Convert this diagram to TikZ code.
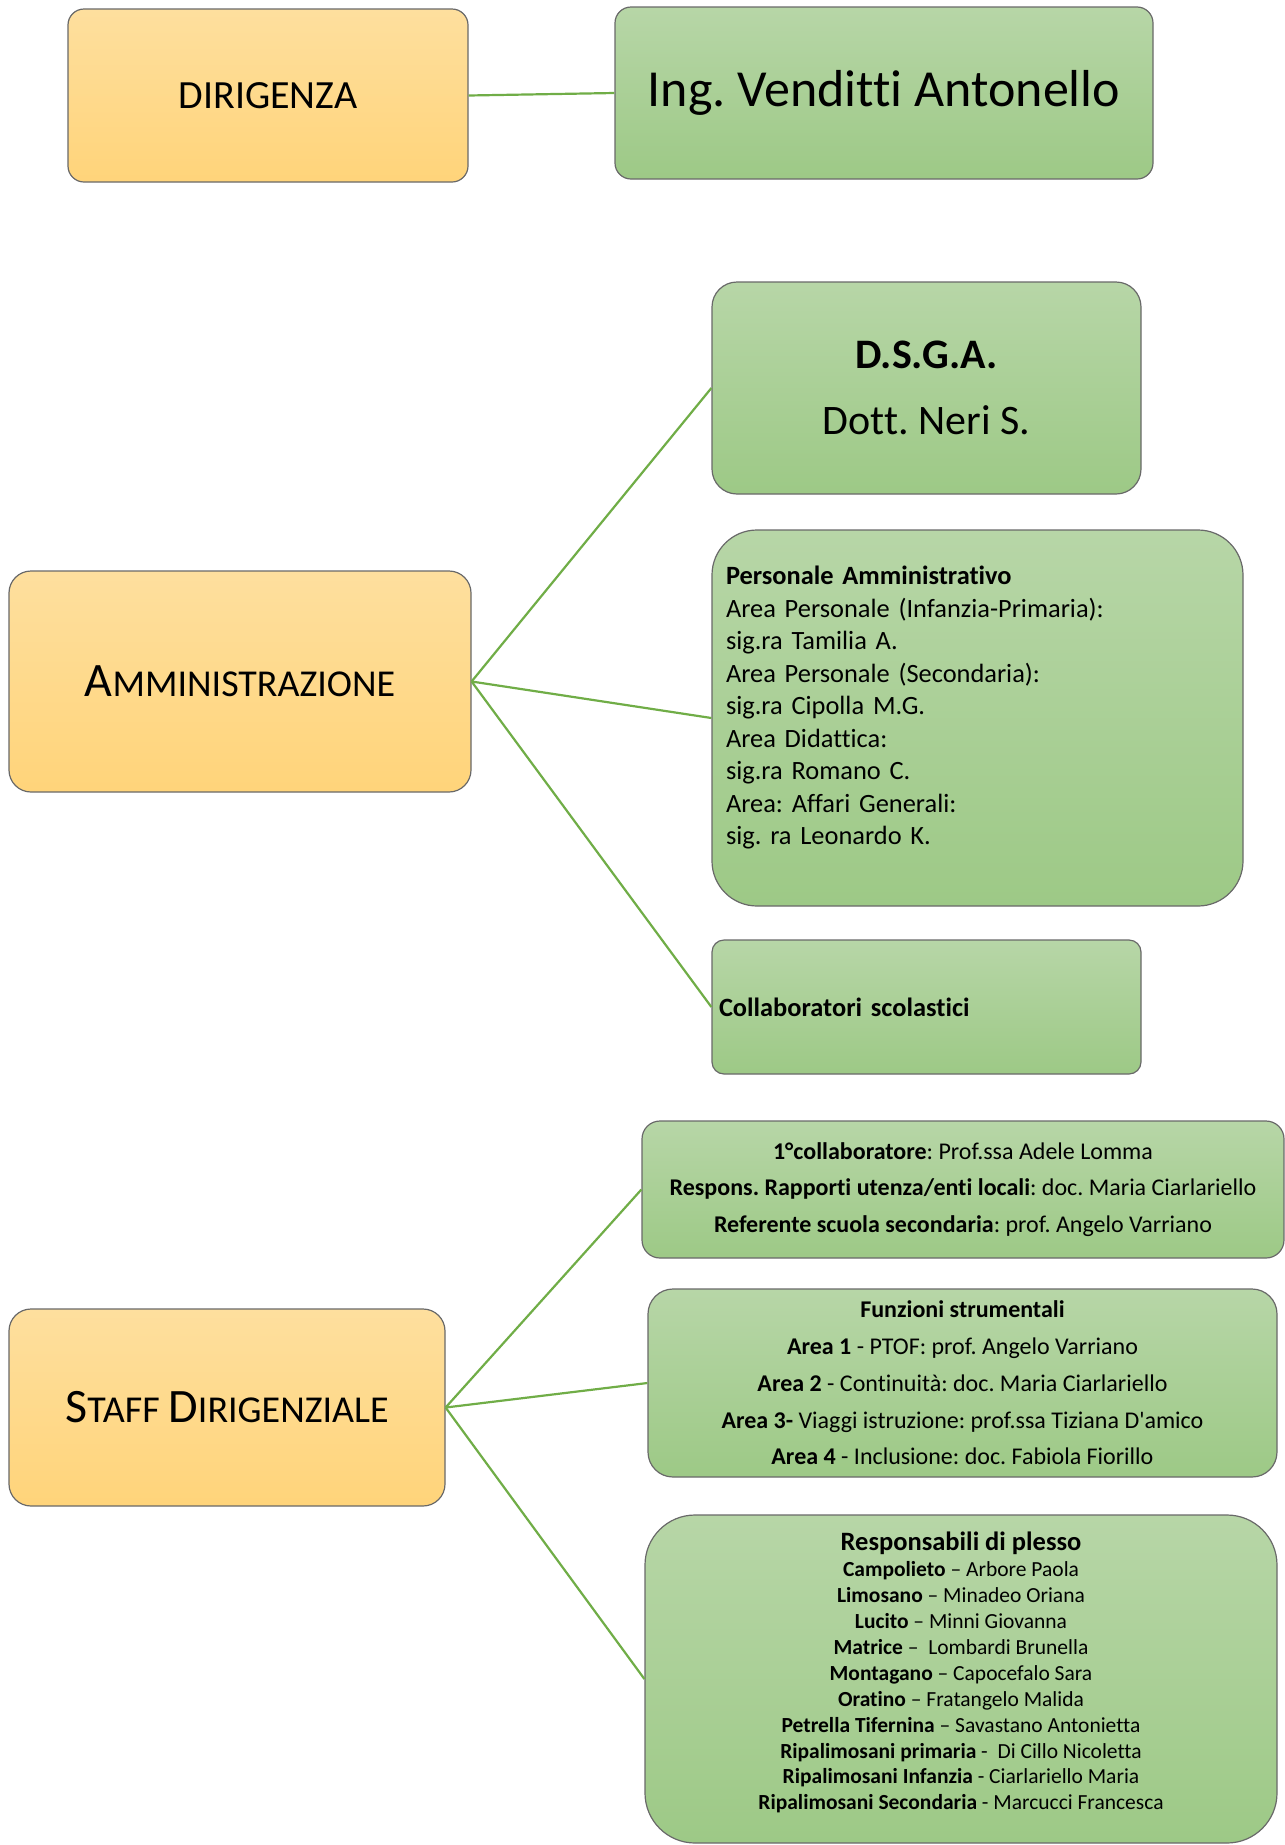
\documentclass[tikz,border=0pt]{standalone}
\usepackage{fontspec}
\setmainfont{Carlito}[Ligatures={TeX,NoCommon}]
\usetikzlibrary{positioning}
\definecolor{orangetop}{RGB}{254,223,158}
\definecolor{orangebot}{RGB}{255,212,122}
\definecolor{greentop}{RGB}{183,214,167}
\definecolor{greenbot}{RGB}{157,201,134}
\definecolor{boxline}{RGB}{105,105,105}
\definecolor{linkgreen}{RGB}{112,173,71}
\newcommand{\fsz}[2]{\fontsize{#1}{#2}\selectfont}
\frenchspacing

\begin{document}
\begin{tikzpicture}[x=1pt, y=-1pt,
  orgbox/.style={draw=boxline, line width=1.2pt, top color=orangetop, bottom color=orangebot, rounded corners=22pt, inner sep=0pt, align=center},
  namebox/.style={draw=boxline, line width=1.2pt, top color=greentop, bottom color=greenbot, rounded corners=18pt, inner sep=0pt},
  link/.style={draw=linkgreen, line width=2.2pt}]
  \useasboundingbox (0,0) rectangle (1285,1845);

  % Dirigenza
  \node[orgbox, minimum width=400pt, minimum height=173pt, rounded corners=16pt, font=\fsz{40}{48}] (dirigenza) at (268,95.5) {DIRIGENZA};
  \node[namebox, minimum width=538pt, minimum height=172pt, rounded corners=16pt, font=\fsz{52}{62}] (venditti) at (884,93) {Ing. Venditti Antonello};

  % Amministrazione
  \node[orgbox, minimum width=462pt, minimum height=221pt, font=\fsz{48}{58}] (amm) at (240,681.5) {A\fsz{38}{58}MMINISTRAZIONE};

  \node[namebox, minimum width=429pt, minimum height=212pt, rounded corners=25pt, align=center, font=\fsz{42}{66}] (dsga) at (926.5,388) {
    \textbf{D.S.G.A.}\\
    Dott. Neri S.
  };

  \node[namebox, minimum width=531pt, minimum height=376pt, rounded corners=45pt, inner xsep=14pt, text width=503pt, align=left, font=\fsz{26.4}{32.5}] (personale) at (977.5,718) {
    \textbf{Personale Amministrativo}\\
    Area Personale (Infanzia-Primaria):\\
    sig.ra Tamilia A.\\
    Area Personale (Secondaria):\\
    sig.ra Cipolla M.G.\\
    Area Didattica:\\
    sig.ra Romano C.\\
    Area: Affari Generali:\\
    sig. ra Leonardo K.\\[-7pt]
    \mbox{}
  };

  \node[namebox, minimum width=429pt, minimum height=134pt, rounded corners=12pt, inner xsep=7pt, text width=415pt, align=left, font=\fsz{26.4}{32.5}\bfseries] (collab) at (926.5,1007) {Collaboratori scolastici};

  % Staff dirigenziale
  \node[orgbox, minimum width=436pt, minimum height=197pt, font=\fsz{48}{58}] (staff) at (227,1407.5) {S\fsz{38}{58}TAFF \fsz{48}{58}D\fsz{38}{58}IRIGENZIALE};

  \node[namebox, minimum width=642pt, minimum height=137pt, align=center, font=\fsz{24}{36.5}] (collab1) at (963,1189.5) {
    \textbf{1°collaboratore}: Prof.ssa Adele Lomma\\
    \textbf{Respons. Rapporti utenza/enti locali}: doc. Maria Ciarlariello\\
    \textbf{Referente scuola secondaria}: prof. Angelo Varriano
  };

  \node[namebox, minimum width=629pt, minimum height=188pt, rounded corners=25pt, align=center, font=\fsz{24}{36.8}] (funzioni) at (962.5,1383) {
    \textbf{Funzioni strumentali}\\
    \textbf{Area 1} - PTOF: prof. Angelo Varriano\\
    \textbf{Area 2} - Continuità: doc. Maria Ciarlariello\\
    \textbf{Area 3-} Viaggi istruzione: prof.ssa Tiziana D\textquotesingle amico\\
    \textbf{Area 4} - Inclusione: doc. Fabiola Fiorillo
  };

  \node[namebox, minimum width=632pt, minimum height=328pt, rounded corners=50pt, align=center, font=\fsz{21.5}{25.9}] (plesso) at (961,1679) {
    {\fsz{26.5}{30}\textbf{Responsabili di plesso}}\\
    \textbf{Campolieto} -- Arbore Paola\\
    \textbf{Limosano} -- Minadeo Oriana\\
    \textbf{Lucito} -- Minni Giovanna\\
    \textbf{Matrice} -- \ Lombardi Brunella\\
    \textbf{Montagano} -- Capocefalo Sara\\
    \textbf{Oratino} -- Fratangelo Malida\\
    \textbf{Petrella Tifernina} -- Savastano Antonietta\\
    \textbf{Ripalimosani primaria} - \ Di Cillo Nicoletta\\
    \textbf{Ripalimosani Infanzia} - Ciarlariello Maria\\
    \textbf{Ripalimosani Secondaria} - Marcucci Francesca\\[-10pt]
    \mbox{}
  };

  % connectors
  \draw[link] (dirigenza.east) -- (venditti.west);
  \draw[link] (amm.east) -- (dsga.west);
  \draw[link] (amm.east) -- (personale.west);
  \draw[link] (amm.east) -- (collab.west);
  \draw[link] (staff.east) -- (collab1.west);
  \draw[link] (staff.east) -- (funzioni.west);
  \draw[link] (staff.east) -- (plesso.west);
\end{tikzpicture}
\end{document}
